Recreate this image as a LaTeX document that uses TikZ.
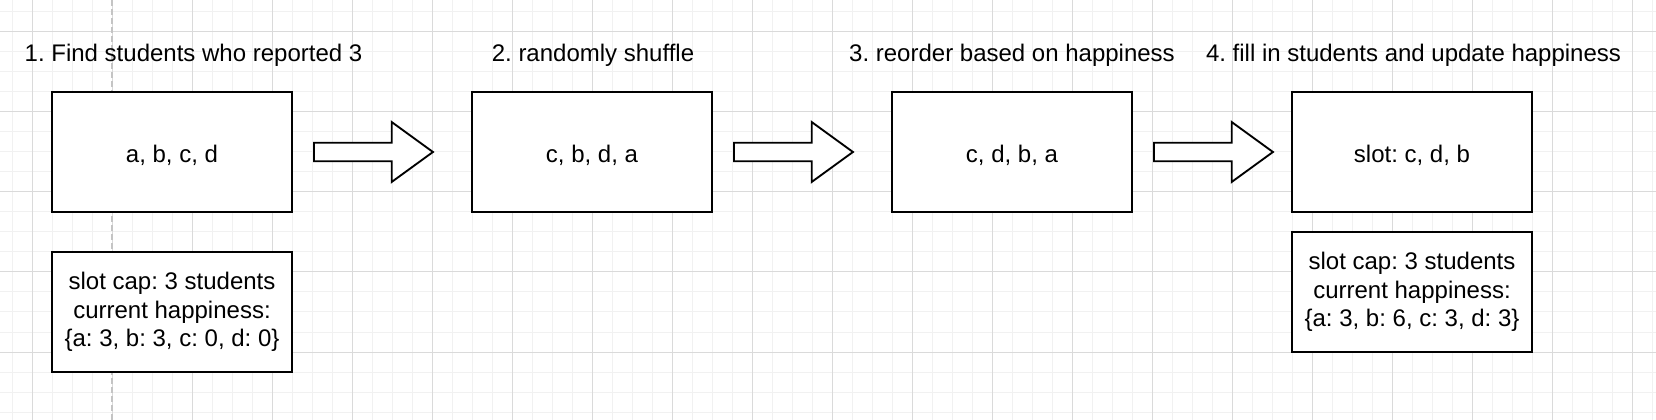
\documentclass[tikz,border=0pt]{standalone}
\usepackage{fontspec}
\setmainfont{Liberation Sans}
\usetikzlibrary{shapes.arrows,positioning}
\definecolor{gridmajor}{HTML}{DADADA}
\definecolor{gridminor}{HTML}{F1F1F1}
\definecolor{guidegray}{HTML}{C4C4C4}
\tikzset{
  stepbox/.style={draw=black, line width=1.5pt, fill=white, minimum width=180pt, minimum height=90pt, inner sep=0pt, align=center},
  listbox/.style={stepbox, text height=17pt, text depth=1.6pt},
  blockarr/.style={single arrow, draw=black, line width=1.4pt, fill=white, minimum height=89.25pt, minimum width=43.5pt, single arrow head extend=15.5pt, single arrow tip angle=72, inner sep=6.25pt},
  steptitle/.style={anchor=base, inner sep=0pt},
}
\frenchspacing
\begin{document}
\begin{tikzpicture}[x=0.75pt, y=-0.75pt, every node/.style={font=\fontsize{18pt}{21.2pt}\selectfont}]
\useasboundingbox (0,0) rectangle (1656,420);
\fill[white] (0,0) rectangle (1656,420);
%%% background grid
\foreach \gx in {12,32,...,1652} \draw[gridminor, line width=0.75pt] (\gx,0) -- (\gx,420);
\foreach \gy in {12,32,...,412} \draw[gridminor, line width=0.75pt] (0,\gy) -- (1656,\gy);
\foreach \gx in {32,112,...,1632} \draw[gridmajor, line width=0.75pt] (\gx,0) -- (\gx,420);
\foreach \gy in {32,112,...,352} \draw[gridmajor, line width=0.75pt] (0,\gy) -- (1656,\gy);
% guide line
\draw[guidegray, line width=0.9pt, dash pattern=on 4.5pt off 2.25pt] (112,0) -- (112,420);
%%% step titles
\node[steptitle] (title1) at (193.5,62) {1. Find students who reported 3};
\node[steptitle] (title2) at (593,62) {2. randomly shuffle};
\node[steptitle] (title3) at (1012,62) {3. reorder based on happiness};
\node[steptitle] (title4) at (1413.5,62) {4. fill in students and update happiness};
%%% the student lists
\node[listbox] (list1) at (172,152) {a, b, c, d};
\node[listbox] (list2) at (592,152) {c, b, d, a};
\node[listbox] (list3) at (1012,152) {c, d, b, a};
\node[listbox] (list4) at (1412,152) {slot: c, d, b};
%%% slot cap and happiness
\node[stepbox] (state1) at (172,312) {slot cap: 3 students\\current happiness:\\\{a: 3, b: 3, c: 0, d: 0\}};
\node[stepbox] (state4) at (1412,292) {slot cap: 3 students\\current happiness:\\\{a: 3, b: 6, c: 3, d: 3\}};
%%% block arrows between the steps
\node[blockarr, right=15pt of list1] (arr1) {};
\node[blockarr, right=15pt of list2] (arr2) {};
\node[blockarr, right=15pt of list3] (arr3) {};
\end{tikzpicture}
\end{document}
